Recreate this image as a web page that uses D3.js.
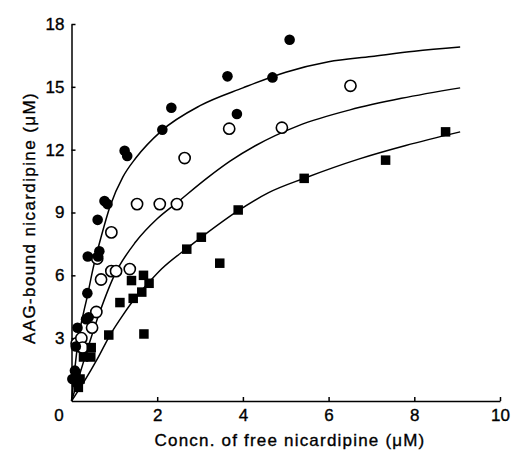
<!DOCTYPE html>
<html>
<head>
<meta charset="utf-8">
<script src="https://cdn.jsdelivr.net/npm/d3@7"></script>
<style>
  body { margin: 0; background: #fff; }
  svg text { font-family: "Liberation Sans", Arial, sans-serif; fill: #000; stroke: #000; stroke-width: 0.35px; }
</style>
</head>
<body>
<div id="chart"></div>
<script>
const filledCircles = [
    [0.02, 1.05], [0.08, 1.45], [0.10, 2.6], [0.14, 3.5], [0.34, 3.9], [0.40, 4.0],
    [0.37, 5.15], [0.38, 6.9], [0.62, 6.9], [0.65, 7.15], [0.61, 8.65], [0.77, 9.55],
    [0.84, 9.4], [1.24, 11.95], [1.30, 11.7], [2.12, 12.95], [2.33, 14.0], [3.64, 15.5],
    [3.86, 13.7], [4.69, 15.45], [5.09, 17.25]
];
const openCircles = [
    [0.12, 2.75], [0.20, 2.6], [0.23, 3.0], [0.26, 2.55], [0.48, 3.5], [0.58, 4.25],
    [0.60, 6.8], [0.69, 5.8], [0.93, 6.2], [1.04, 6.2], [1.36, 6.3], [0.93, 8.05],
    [1.53, 9.4], [2.06, 9.4], [2.46, 9.4], [2.64, 11.6], [3.68, 13.0], [4.91, 13.05],
    [6.51, 15.05]
];
const filledSquares = [
    [0.10, 1.3], [0.12, 0.9], [0.16, 0.65], [0.20, 1.05], [0.28, 2.1], [0.45, 2.1],
    [0.46, 2.55], [0.87, 3.15], [1.13, 4.7], [1.44, 4.9], [1.40, 5.75], [1.64, 5.2],
    [1.68, 6.0], [1.81, 5.62], [1.69, 3.2], [2.69, 7.25], [3.03, 7.82], [3.46, 6.58],
    [3.89, 9.12], [5.43, 10.63], [7.33, 11.5], [8.73, 12.85]
];

// Fitted curves
const curveTop = [
    [0, 0], [0.15, 2.8], [0.38, 5.1], [0.5, 6.3], [0.7, 7.9], [0.9, 9.3], [1.2, 10.7],
    [1.5, 11.6], [2.1, 12.9], [3, 14.1], [4, 14.95], [5, 15.7], [6, 16.2], [7, 16.45],
    [8, 16.7], [9.07, 16.9]
];
const curveMiddle = [
    [0, 0], [0.3, 2.0], [0.6, 3.9], [1.0, 6.0], [1.5, 7.6], [2.0, 8.7], [2.45, 9.45],
    [3.2, 10.7], [3.7, 11.45], [4.3, 12.2], [5.3, 13.15], [6.5, 13.9], [7.7, 14.45],
    [9.07, 14.95]
];
const curveBottom = [
    [0, 0], [0.3, 0.95], [0.6, 2.0], [0.9, 3.15], [1.2, 4.1], [1.5, 4.95], [1.8, 5.65],
    [2.1, 6.3], [2.7, 7.3], [3.05, 7.85], [3.9, 9.1], [4.6, 9.95], [5.45, 10.65],
    [6.7, 11.55], [7.8, 12.2], [9.07, 12.85]
];

const xTicks = [0, 2, 4, 6, 8, 10];
const yTicks = [3, 6, 9, 12, 15, 18];

const width = 512, height = 451;

const svg = d3.select("#chart")
    .append("svg")
    .attr("width", width)
    .attr("height", height);

const xScale = d3.scaleLinear().domain([0, 10]).range([71.5, 500]);
const yScale = d3.scaleLinear().domain([0, 18]).range([401, 24]);

// x axis, ticks pointing inwards
const xAxis = svg.append("g")
    .attr("transform", "translate(0," + yScale(0) + ")")
    .call(d3.axisBottom(xScale)
        .tickValues(xTicks)
        .tickSizeInner(-4)
        .tickSizeOuter(0)
        .tickPadding(8)
        .tickFormat(d3.format("d")));

xAxis.selectAll("text").attr("font-size", 17);
xAxis.selectAll(".tick").filter(d => d === 0)
    .select("text").attr("x", -13);

// y axis
const yAxis = svg.append("g")
    .attr("transform", "translate(" + xScale(0) + ",0)")
    .call(d3.axisLeft(yScale)
        .tickValues(yTicks)
        .tickSizeInner(-4)
        .tickSizeOuter(0)
        .tickPadding(7));

yAxis.selectAll("text").attr("font-size", 17);
svg.selectAll(".domain, .tick line").attr("stroke", "#000").attr("stroke-width", 1.5);

// axis titles
svg.append("text")
    .attr("x", 290)
    .attr("y", 446)
    .attr("text-anchor", "middle")
    .attr("font-size", 17)
    .attr("letter-spacing", 1.2)
    .text("Concn. of free nicardipine (\u03BCM)");

svg.append("text")
    .attr("transform", "translate(35,218) rotate(-90)")
    .attr("text-anchor", "middle")
    .attr("font-size", 17)
    .attr("letter-spacing", 1.4)
    .text("AAG-bound nicardipine (\u03BCM)");

// fitted curves
const line = d3.line()
    .x(d => xScale(d[0]))
    .y(d => yScale(d[1]))
    .curve(d3.curveMonotoneX);

svg.append("g")
    .selectAll("path")
    .data([curveTop, curveMiddle, curveBottom])
    .enter()
    .append("path")
    .attr("d", line)
    .attr("fill", "none")
    .attr("stroke", "#000")
    .attr("stroke-width", 1.5);

// open circles
svg.append("g")
    .selectAll("circle")
    .data(openCircles)
    .enter()
    .append("circle")
    .attr("cx", d => xScale(d[0]))
    .attr("cy", d => yScale(d[1]))
    .attr("r", 5.6)
    .attr("fill", "#fff")
    .attr("stroke", "#000")
    .attr("stroke-width", 1.6);

// filled squares
const side = 9.5;
svg.append("g")
    .selectAll("rect")
    .data(filledSquares)
    .enter()
    .append("rect")
    .attr("x", d => xScale(d[0]) - side / 2)
    .attr("y", d => yScale(d[1]) - side / 2)
    .attr("width", side)
    .attr("height", side)
    .attr("fill", "#000");

// filled circles
svg.append("g")
    .selectAll("circle")
    .data(filledCircles)
    .enter()
    .append("circle")
    .attr("cx", d => xScale(d[0]))
    .attr("cy", d => yScale(d[1]))
    .attr("r", 5.3)
    .attr("fill", "#000");
</script>
</body>
</html>
